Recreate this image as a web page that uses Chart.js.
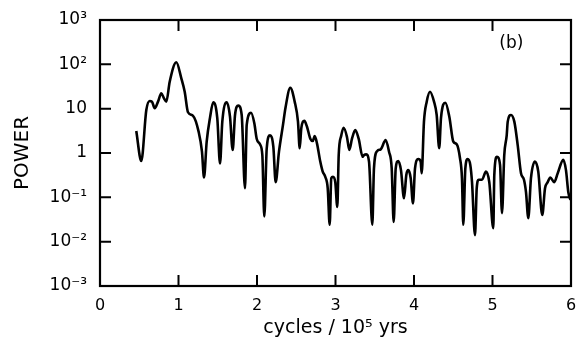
<!DOCTYPE html>
<html>
<head>
<meta charset="utf-8">
<script src="https://cdn.jsdelivr.net/npm/chart.js@4"></script>
<style>
  html, body { margin: 0; padding: 0; background: #fff; }
  #wrap { width: 588px; height: 342px; }
</style>
</head>
<body>
<div id="wrap"><canvas id="c" width="588" height="342"></canvas></div>
<script>
// ---- data ----
const freq = [0.462,0.526,0.590,0.633,0.662,0.697,0.739,0.781,0.815,0.845,0.888,0.972,1.036,1.079,1.121,1.185,1.257,1.299,1.325,1.359,1.401,1.443,1.494,1.529,1.558,1.614,1.656,1.690,1.720,1.762,1.805,1.847,1.869,1.924,1.966,1.996,2.038,2.068,2.093,2.124,2.166,2.208,2.238,2.280,2.331,2.363,2.424,2.480,2.522,2.544,2.564,2.603,2.637,2.679,2.710,2.735,2.764,2.806,2.837,2.870,2.901,2.926,2.946,2.968,2.997,3.023,3.041,3.074,3.104,3.146,3.176,3.210,3.252,3.295,3.346,3.364,3.392,3.427,3.469,3.490,3.532,3.576,3.639,3.682,3.716,3.741,3.767,3.800,3.834,3.873,3.902,3.927,3.958,3.987,4.013,4.055,4.085,4.098,4.127,4.162,4.204,4.255,4.289,4.321,4.344,4.399,4.450,4.501,4.544,4.586,4.611,4.628,4.654,4.684,4.717,4.739,4.777,4.799,4.824,4.866,4.917,4.959,5.010,5.023,5.057,5.096,5.121,5.150,5.181,5.194,5.236,5.278,5.321,5.363,5.401,5.427,5.456,5.490,5.541,5.583,5.634,5.669,5.703,5.736,5.787,5.831,5.902,5.936,5.966,5.994];
const power = [3.13,0.66,9.3,14.9,14.4,10.2,14.4,22.2,17.1,14.4,40.6,111,48.4,24.1,8.3,6.9,3.0,1.07,0.28,1.8,6.2,13.9,6.1,0.58,5.1,13.9,6.6,1.17,7.2,11.7,7.2,0.16,4.3,8.1,4.7,2.1,1.57,0.90,0.037,1.28,2.5,1.39,0.22,1.07,4.3,10.5,29.7,14.4,5.1,1.28,3.6,5.3,3.9,2.1,1.86,2.4,1.65,0.64,0.38,0.29,0.16,0.024,0.27,0.29,0.22,0.061,0.90,2.5,3.7,2.3,1.17,2.1,3.3,2.1,0.82,0.90,0.93,0.64,0.024,0.45,1.11,1.21,1.96,1.07,0.45,0.028,0.45,0.66,0.41,0.095,0.32,0.41,0.27,0.073,0.45,0.73,0.64,0.35,5.1,14.4,24.1,14.4,7.2,1.28,6.2,13.6,6.6,1.8,1.57,0.76,0.27,0.024,0.45,0.73,0.54,0.22,0.014,0.16,0.25,0.25,0.38,0.22,0.020,0.32,0.82,0.54,0.044,0.90,2.5,5.1,7.2,5.1,1.51,0.35,0.25,0.13,0.034,0.27,0.64,0.38,0.040,0.16,0.22,0.28,0.22,0.35,0.70,0.41,0.13,0.087];
const yTickValues = [0.001,0.01,0.1,1,10,100,1000];
const yTickLabels = ['10\u207B\u00B3','10\u207B\u00B2','10\u207B\u00B9','1','10','10\u00B2','10\u00B3'];
const xTickLabels = ['0','1','2','3','4','5','6'];
const xTitle = 'cycles / 10\u2075 yrs';
const yTitle = 'POWER';
const panelLabel = '(b)';

const FONT = '"DejaVu Sans", sans-serif';

const frameTicks = {
  id: 'frameTicks',
  afterDraw(chart) {
    const { ctx, chartArea: a, scales: { x, y } } = chart;
    ctx.save();
    ctx.strokeStyle = '#000';
    ctx.lineWidth = 2.2;
    ctx.strokeRect(a.left, a.top, a.right - a.left, a.bottom - a.top);
    ctx.lineWidth = 2;
    const L = 11;
    y.ticks.forEach(t => {
      if (t.value <= y.min || t.value >= y.max) return;
      const py = y.getPixelForValue(t.value);
      ctx.beginPath();
      ctx.moveTo(a.left, py); ctx.lineTo(a.left + L, py);
      ctx.moveTo(a.right, py); ctx.lineTo(a.right - L, py);
      ctx.stroke();
    });
    x.ticks.forEach(t => {
      if (t.value <= x.min || t.value >= x.max) return;
      const px = x.getPixelForValue(t.value);
      ctx.beginPath();
      ctx.moveTo(px, a.bottom); ctx.lineTo(px, a.bottom - L);
      ctx.moveTo(px, a.top); ctx.lineTo(px, a.top + L);
      ctx.stroke();
    });
    ctx.fillStyle = '#000';
    ctx.font = '17px ' + FONT;
    ctx.textAlign = 'center';
    ctx.textBaseline = 'middle';
    ctx.fillText(panelLabel, x.getPixelForValue(5.24), y.getPixelForValue(300));
    ctx.restore();
  }
};

new Chart(document.getElementById('c'), {
  type: 'line',
  data: {
    datasets: [{
      data: freq.map((f, i) => ({ x: f, y: power[i] })),
      borderColor: '#000',
      borderWidth: 2.6,
      pointRadius: 0,
      cubicInterpolationMode: 'monotone',
      fill: false
    }]
  },
  options: {
    responsive: false,
    animation: false,
    devicePixelRatio: 1,
    layout: { padding: { top: 20, right: 17, bottom: 0, left: 0 } },
    plugins: { legend: { display: false }, tooltip: { enabled: false } },
    scales: {
      x: {
        type: 'linear',
        min: 0, max: 6,
        grid: { display: false },
        border: { display: false },
        afterFit: s => { s.height = 56; },
        ticks: {
          stepSize: 1,
          padding: 2,
          color: '#000',
          font: { family: FONT, size: 16 },
          callback: v => xTickLabels[v] ?? ''
        },
        title: {
          display: true, text: xTitle, color: '#000',
          font: { family: FONT, size: 19 },
          padding: { top: 0, bottom: 3 }
        }
      },
      y: {
        type: 'logarithmic',
        min: 0.001, max: 1000,
        grid: { display: false },
        border: { display: false },
        afterFit: s => { s.width = 100; },
        afterBuildTicks: s => { s.ticks = yTickValues.map(v => ({ value: v })); },
        ticks: {
          padding: 5,
          color: '#000',
          font: { family: FONT, size: 17 },
          callback: v => { const i = yTickValues.indexOf(v); return i >= 0 ? yTickLabels[i] : ''; }
        },
        title: {
          display: true, text: yTitle, color: '#000',
          font: { family: FONT, size: 20 },
          padding: { top: 11, bottom: 0 }
        }
      }
    }
  },
  plugins: [frameTicks]
});
</script>
</body>
</html>
